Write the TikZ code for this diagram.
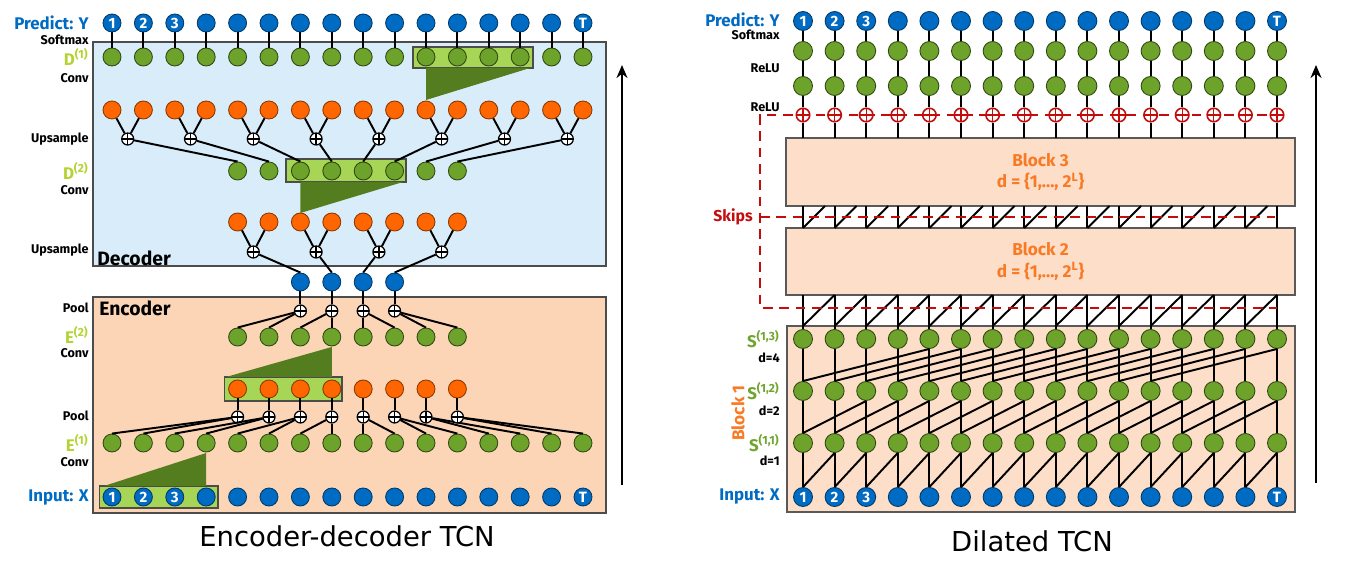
\documentclass[tikz,border=0pt]{standalone}
\usepackage{fontspec}
\setmainfont{DejaVu Sans}
\newfontfamily\labfont{Fira Sans}
\usetikzlibrary{positioning}
\usetikzlibrary{arrows.meta}

\definecolor{tcnblue}{HTML}{006BC2}
\definecolor{tcngreen}{HTML}{6DA22B}
\definecolor{tcnorange}{HTML}{FF6600}
\definecolor{tcnlime}{HTML}{A7D656}
\definecolor{tcndark}{HTML}{547D1F}
\definecolor{declight}{HTML}{D8ECF9}
\definecolor{encpeach}{HTML}{FCD5B7}
\definecolor{blockpeach}{HTML}{FDDEC8}
\definecolor{lablime}{HTML}{B3D333}
\definecolor{labgreen}{HTML}{6FA52E}
\definecolor{skipred}{HTML}{C30D0D}
\definecolor{blocktext}{HTML}{F97A24}

\newcommand{\colnum}[1]{\ifnum#1<3 \number\numexpr#1+1\relax\else\ifnum#1=15 T\fi\fi}

\tikzset{
  unit/.style={circle, minimum size=0.36cm, inner sep=0pt, line width=0.5pt,
    font=\labfont\bfseries\fontsize{8.5}{9}\selectfont, text=white},
  bluenode/.style={unit, fill=tcnblue, draw=tcnblue!55!black},
  greennode/.style={unit, fill=tcngreen, draw=tcngreen!45!black},
  orangenode/.style={unit, fill=tcnorange, draw=tcnorange!55!black},
  plusnode/.style={circle, draw=#1, fill=white, minimum size=0.24cm, inner sep=0pt, line width=0.7pt,
    path picture={\draw[#1, line width=0.7pt]
      (path picture bounding box.north) -- (path picture bounding box.south)
      (path picture bounding box.west) -- (path picture bounding box.east);}},
  plusnode/.default=black,
  link/.style={line width=1.1pt},
  skipline/.style={draw=skipred, line width=1.6pt, dash pattern=on 5.5pt off 3.8pt},
  convbox/.style={fill=tcnlime, draw=black!70, line width=0.6pt},
  kernel/.style={fill=tcndark},
  rowlab/.style={anchor=east, inner sep=0pt, font=\labfont\bfseries\fontsize{7.2}{8}\selectfont},
  biglab/.style={anchor=east, inner sep=0pt, font=\labfont\bfseries\fontsize{9.6}{11}\selectfont},
  blockbox/.style={draw=black!65, fill=blockpeach, line width=0.7pt, align=center,
    text=blocktext, font=\labfont\bfseries\fontsize{9.8}{12}\selectfont,
    minimum width=10.18cm, inner sep=0pt},
  uparrow/.style={line width=1.4pt, -{Stealth[length=0.26cm, width=0.22cm]}},
  title/.style={font=\fontsize{15.6}{18}\selectfont}
}

\begin{document}
\begin{tikzpicture}[x=0.02cm, y=-0.02cm]
  \useasboundingbox (0,0) rectangle (1350,563);

  % ---------- Encoder-decoder TCN ----------
  \filldraw[fill=declight, draw=black!70, line width=0.8pt] (93,42) rectangle (606,266);
  \filldraw[fill=encpeach, draw=black!70, line width=0.8pt] (93,297) rectangle (606,513);

  % convolution windows
  \draw[convbox] (413,47) rectangle (533,68);
  \fill[kernel] (426,68) -- (530,68) -- (426,100) -- cycle;
  \draw[convbox] (286,159) rectangle (406,182);
  \fill[kernel] (300.4,182) -- (403,182) -- (300.4,213) -- cycle;
  \draw[convbox] (224.5,377) rectangle (342,401);
  \fill[kernel] (331.8,347) -- (331.8,377) -- (226,377) -- cycle;
  \draw[convbox] (99.6,486) rectangle (218,508);
  \fill[kernel] (206.2,453) -- (206.2,486) -- (104,486) -- cycle;

  % full-length rows
  \foreach \i in {0,...,15} {
    \pgfmathsetmacro\x{112+31.4*\i}
    \node[bluenode] (ly\i) at (\x,23) {\colnum{\i}};
    \node[greennode] (ld\i) at (\x,57) {};
    \node[orangenode] (lo\i) at (\x,110) {};
    \node[greennode] (le\i) at (\x,443) {};
    \node[bluenode] (lx\i) at (\x,497) {\colnum{\i}};
    \draw[link] (ly\i) -- (ld\i);
  }

  % half-length rows
  \foreach \j in {4,...,11} {
    \pgfmathsetmacro\x{112+31.4*\j}
    \node[greennode] (lf\j) at (\x,171) {};
    \node[orangenode] (lg\j) at (\x,222) {};
    \node[greennode] (lh\j) at (\x,337) {};
    \node[orangenode] (lk\j) at (\x,389) {};
  }

  % quarter-length row
  \foreach \j in {6,...,9} {
    \pgfmathsetmacro\x{112+31.4*\j}
    \node[bluenode] (lm\j) at (\x,282) {};
  }

  % upsample (decoder)
  \foreach \k in {0,...,7} {
    \pgfmathtruncatemacro\a{2*\k}
    \pgfmathtruncatemacro\b{2*\k+1}
    \pgfmathtruncatemacro\j{\k+4}
    \pgfmathsetmacro\x{112+31.4*(2*\k+0.5)}
    \node[plusnode] (lu\k) at (\x,139) {};
    \draw[link] (lo\a) -- (lu\k);
    \draw[link] (lo\b) -- (lu\k);
    \draw[link] (lu\k) -- (lf\j.north);
  }
  \foreach \k in {0,...,3} {
    \pgfmathtruncatemacro\a{2*\k+4}
    \pgfmathtruncatemacro\b{2*\k+5}
    \pgfmathtruncatemacro\j{\k+6}
    \pgfmathsetmacro\x{112+31.4*(2*\k+4.5)}
    \node[plusnode] (lv\k) at (\x,252) {};
    \draw[link] (lg\a) -- (lv\k);
    \draw[link] (lg\b) -- (lv\k);
    \draw[link] (lv\k) -- (lm\j.north);
  }

  % pooling (encoder)
  \foreach \j in {6,...,9} {
    \pgfmathtruncatemacro\a{2*\j-8}
    \pgfmathtruncatemacro\b{2*\j-7}
    \pgfmathsetmacro\x{112+31.4*\j}
    \node[plusnode] (lp\j) at (\x,311) {};
    \draw[link] (lm\j) -- (lp\j);
    \draw[link] (lp\j) -- (lh\a.north);
    \draw[link] (lp\j) -- (lh\b.north);
  }
  \foreach \j in {4,...,11} {
    \pgfmathtruncatemacro\a{2*\j-8}
    \pgfmathtruncatemacro\b{2*\j-7}
    \pgfmathsetmacro\x{112+31.4*\j}
    \node[plusnode] (lq\j) at (\x,417) {};
    \draw[link] (lk\j) -- (lq\j);
    \draw[link] (lq\j) -- (le\a.north);
    \draw[link] (lq\j) -- (le\b.north);
  }

  % labels
  \node[biglab, text=tcnblue] (predL) at (89,23) {Predict: Y};
  \node[rowlab] (softL) at (89,40) {Softmax};
  \node[biglab, text=lablime] (dOneL) at (89,57) {D\textsuperscript{(1)}};
  \node[rowlab] (convA) at (89,78) {Conv};
  \node[rowlab] (upA) at (89,139) {Upsample};
  \node[biglab, text=lablime] (dTwoL) at (89,171) {D\textsuperscript{(2)}};
  \node[rowlab] (convB) at (89,190) {Conv};
  \node[rowlab] (upB) at (89,250) {Upsample};
  \node[rowlab] (poolA) at (89,308) {Pool};
  \node[biglab, text=lablime] (eTwoL) at (89,335) {E\textsuperscript{(2)}};
  \node[rowlab] (convC) at (89,353) {Conv};
  \node[rowlab] (poolB) at (89,416) {Pool};
  \node[biglab, text=lablime] (eOneL) at (89,443) {E\textsuperscript{(1)}};
  \node[rowlab] (convD) at (89,462) {Conv};
  \node[biglab, text=tcnblue] (inL) at (89,498) {Input: X};
  \node[anchor=west, inner sep=0pt, font=\labfont\bfseries\fontsize{11}{12}\selectfont] (decL) at (97,258) {Decoder};
  \node[anchor=west, inner sep=0pt, font=\labfont\bfseries\fontsize{11}{12}\selectfont] (encL) at (99,308) {Encoder};
  \node[title] (titleL) at (347,536) {Encoder-decoder TCN};

  \coordinate (upL0) at (622,485);
  \coordinate (upL1) at (622,65);
  \draw[uparrow] (upL0) -- (upL1);

  % ---------- Dilated TCN ----------
  \filldraw[fill=blockpeach, draw=black!65, line width=0.7pt] (787,326) rectangle (1295,512);
  \node[blockbox, minimum height=1.36cm] (block3) at (1040.5,172) {Block 3\\d = \{1,..., 2\textsuperscript{L}\}};
  \node[blockbox, minimum height=1.34cm] (block2) at (1040.5,261.5) {Block 2\\d = \{1,..., 2\textsuperscript{L}\}};

  \foreach \i in {0,...,15} {
    \pgfmathsetmacro\x{803+31.6*\i}
    \pgfmathsetmacro\xg{803+31.6*\i+22}
    \node[bluenode, minimum size=0.38cm] (ry\i) at (\x,21) {\colnum{\i}};
    \node[greennode, minimum size=0.38cm] (ra\i) at (\x,51) {};
    \node[greennode, minimum size=0.38cm] (rb\i) at (\x,86) {};
    \coordinate (t3\i) at (\x,138);
    \coordinate (b3\i) at (\x,206);
    \coordinate (g3\i) at (\xg,206);
    \coordinate (t2\i) at (\x,228);
    \coordinate (b2\i) at (\x,295);
    \coordinate (t1\i) at (\x,326);
    \node[greennode, minimum size=0.38cm] (rs\i) at (\x,339) {};
    \node[greennode, minimum size=0.38cm] (rr\i) at (\x,391) {};
    \node[greennode, minimum size=0.38cm] (rq\i) at (\x,443) {};
    \node[bluenode, minimum size=0.38cm] (rx\i) at (\x,497) {\colnum{\i}};
    \draw[link] (ry\i) -- (ra\i);
    \draw[link] (ra\i) -- (rb\i);
    \draw[link] (b3\i) -- (t2\i);
    \draw[link] (b2\i) -- (rs\i);
    \draw[link] (rs\i) -- (rr\i);
    \draw[link] (rr\i) -- (rq\i);
    \draw[link] (rq\i) -- (rx\i);
  }

  % dilated connections
  \foreach \i in {0,...,14} {
    \pgfmathtruncatemacro\j{\i+1}
    \draw[link] (rx\i.north) -- (rq\j.south);
    \draw[link] (t2\i) -- (g3\i);
    \draw[link] (t1\i) -- (b2\j);
  }
  \foreach \i in {0,...,13} {
    \pgfmathtruncatemacro\j{\i+2}
    \draw[link] (rq\i.north) -- (rr\j.south);
  }
  \foreach \i in {0,...,11} {
    \pgfmathtruncatemacro\j{\i+4}
    \draw[link] (rr\i.north) -- (rs\j.south);
  }

  % skip connections
  \coordinate (skipA) at (1283,115);
  \coordinate (skipB) at (760,115);
  \coordinate (skipC) at (760,308);
  \coordinate (skipD) at (1277,308);
  \coordinate (skipE) at (760,217);
  \coordinate (skipF) at (1275,217);
  \draw[skipline] (skipA) -- (skipB) -- (skipC) -- (skipD);
  \draw[skipline] (skipE) -- (skipF);

  \foreach \i in {0,...,15} {
    \pgfmathsetmacro\x{803+31.6*\i}
    \node[plusnode=skipred, minimum size=0.27cm, line width=0.9pt] (rp\i) at (\x,115) {};
    \draw[link] (rb\i) -- (rp\i);
    \draw[link] (rp\i) -- (t3\i);
  }

  % labels
  \node[biglab, text=tcnblue] (predR) at (780,20) {Predict: Y};
  \node[rowlab] (softR) at (780,35) {Softmax};
  \node[rowlab] (reluA) at (780,68) {ReLU};
  \node[rowlab] (reluB) at (780,107) {ReLU};
  \node[anchor=east, inner sep=0pt, text=skipred, font=\labfont\bfseries\fontsize{9}{10}\selectfont] (skipL) at (753,217) {Skips};
  \node[biglab, text=labgreen] (sThreeL) at (780,339) {S\textsuperscript{(1,3)}};
  \node[rowlab] (dFour) at (780,358) {d=4};
  \node[biglab, text=labgreen] (sTwoL) at (780,391) {S\textsuperscript{(1,2)}};
  \node[rowlab] (dTwo) at (780,411) {d=2};
  \node[biglab, text=labgreen] (sOneL) at (780,443) {S\textsuperscript{(1,1)}};
  \node[rowlab] (dOne) at (780,461) {d=1};
  \node[biglab, text=tcnblue] (inR) at (780,497) {Input: X};
  \node[rotate=90, inner sep=0pt, text=blocktext, font=\labfont\bfseries\fontsize{9.8}{11}\selectfont] (blockOne) at (738,413) {Block 1};
  \node[title] (titleR) at (1032,541) {Dilated TCN};

  \coordinate (upR0) at (1316,483);
  \coordinate (upR1) at (1316,65);
  \draw[uparrow] (upR0) -- (upR1);
\end{tikzpicture}
\end{document}
